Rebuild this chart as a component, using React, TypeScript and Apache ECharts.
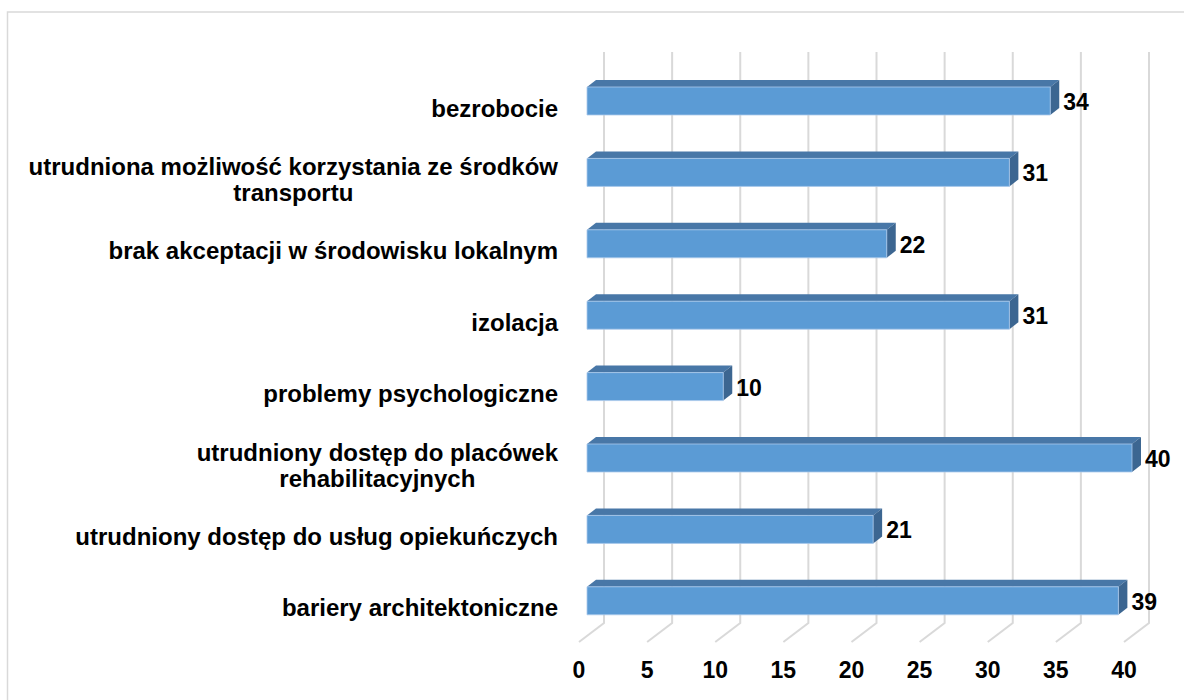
import React, { useEffect, useRef } from "react";
import * as echarts from "echarts";

const categories: string[] = [
  "bezrobocie",
  "utrudniona możliwość korzystania ze środków\ntransportu",
  "brak akceptacji w środowisku lokalnym",
  "izolacja",
  "problemy psychologiczne",
  "utrudniony dostęp do placówek\nrehabilitacyjnych",
  "utrudniony dostęp do usług opiekuńczych",
  "bariery architektoniczne",
];
const values: number[] = [34, 31, 22, 31, 10, 40, 21, 39];
const tickValues: number[] = [0, 5, 10, 15, 20, 25, 30, 35, 40];

const FONT = "'Liberation Sans', Arial, sans-serif";

export default function App() {
  const ref = useRef<HTMLDivElement>(null);
  useEffect(() => {
    if (!ref.current) return;
    const chart = echarts.init(ref.current, null, { renderer: "svg" });
    const DX = 9;
    const DY = 7;
    const WALL_DX = 17;
    const FLOOR_DX = 25;
    const FLOOR_DY = 19;
    const option: any = {
      animation: false,
      backgroundColor: "#ffffff",
      graphic: [
        {
          type: "rect",
          z: -10,
          shape: { x: 7.5, y: 12, width: 1300, height: 800 },
          style: { fill: "none", stroke: "#D9D9D9", lineWidth: 1.5 },
        },
      ],
      grid: { left: 587, right: 52, top: 65.3, bottom: 63.5 },
      xAxis: {
        type: "value",
        min: 0,
        max: 40,
        interval: 5,
        axisLine: { show: false },
        axisTick: { show: false },
        splitLine: { show: false },
        axisLabel: {
          margin: 22,
          fontSize: 23,
          fontWeight: "bold",
          fontFamily: FONT,
          color: "#000",
          lineHeight: 23,
          padding: [0, 16, 0, 0],
        },
      },
      yAxis: {
        type: "category",
        data: categories,
        inverse: true,
        axisLine: { show: false },
        axisTick: { show: false },
        splitLine: { show: false },
        axisLabel: {
          margin: 29,
          align: "right",
          padding: [14, 0, 0, 0],
          formatter: (val: string) =>
            val
              .split("\n")
              .map((l) => `{c|${l}}`)
              .join("\n"),
          rich: {
            c: {
              align: "center",
              fontSize: 24,
              fontWeight: "bold",
              fontFamily: FONT,
              color: "#000",
              lineHeight: 26,
            },
          },
        },
      },
      series: [
        {
          type: "custom",
          z: 1,
          silent: true,
          data: tickValues.map((v) => [v, 0]),
          encode: { x: 0, y: 1 },
          renderItem: (params: any, api: any) => {
            const cs = params.coordSys;
            const x = api.coord([api.value(0), 0])[0] + WALL_DX;
            const top = cs.y - 13.3;
            const bottom = cs.y + cs.height - 13.5;
            return {
              type: "polyline",
              shape: {
                points: [
                  [x, top],
                  [x, bottom],
                  [x - FLOOR_DX, bottom + FLOOR_DY],
                ],
              },
              style: { stroke: "#D9D9D9", lineWidth: 2, fill: "none" },
            };
          },
        },
        {
          type: "custom",
          z: 2,
          data: values.map((v, i) => [v, i]),
          encode: { x: 0, y: 1 },
          renderItem: (params: any, api: any) => {
            const v = api.value(0);
            const idx = api.value(1);
            const p0 = api.coord([0, idx]);
            const p1 = api.coord([v, idx]);
            const h = api.size([0, 1])[1] * 0.392;
            const x0 = p0[0];
            const x1 = p1[0];
            const yc = p0[1];
            const yT = yc - h / 2;
            const yB = yc + h / 2;
            return {
              type: "group",
              children: [
                {
                  type: "polygon",
                  shape: {
                    points: [
                      [x0, yT],
                      [x0 + DX, yT - DY],
                      [x1 + DX, yT - DY],
                      [x1, yT],
                    ],
                  },
                  style: { fill: "#4877A7" },
                },
                {
                  type: "polygon",
                  shape: {
                    points: [
                      [x1, yT],
                      [x1 + DX, yT - DY],
                      [x1 + DX, yB - DY],
                      [x1, yB],
                    ],
                  },
                  style: { fill: "#3C6691" },
                },
                {
                  type: "rect",
                  shape: { x: x0, y: yT, width: x1 - x0, height: h },
                  style: {
                    fill: "#5B9BD5",
                    stroke: "rgba(170,200,235,0.8)",
                    lineWidth: 1,
                  },
                },
                {
                  type: "text",
                  style: {
                    text: String(v),
                    x: x1 + DX + 4,
                    y: yc + 1,
                    verticalAlign: "middle",
                    align: "left",
                    fontSize: 23,
                    fontWeight: "bold",
                    fontFamily: FONT,
                    fill: "#000",
                  },
                },
              ],
            };
          },
        },
      ],
    };
    chart.setOption(option);
    return () => chart.dispose();
  }, []);
  return (
    <div
      ref={ref}
      style={{ position: "absolute", left: 0, top: 0, width: 1184, height: 700 }}
    />
  );
}
